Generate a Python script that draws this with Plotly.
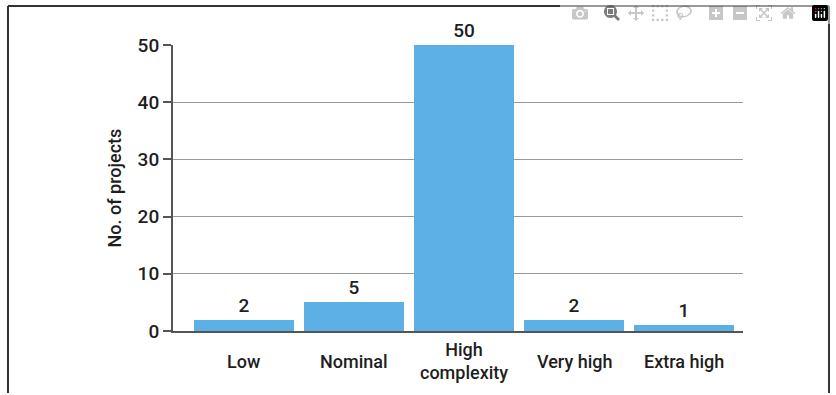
import plotly.graph_objects as go

categories = ["Low", "Nominal", "High<br>complexity", "Very high", "Extra high"]
values = [2, 5, 50, 2, 1]
y_ticks = [0, 10, 20, 30, 40, 50]

FONT = "Roboto, Liberation Sans Narrow, sans-serif"
TXT = "#1e1e1e"

fig = go.Figure()
fig.add_trace(go.Bar(
    x=list(range(len(categories))),
    y=values,
    width=0.91,
    marker=dict(color="#5DB0E3", line=dict(width=0)),
    text=[str(v) for v in values],
    textposition="outside",
    cliponaxis=False,
    textfont=dict(family=FONT, size=19, color=TXT, weight=500),
))

# category labels, vertically centred under the axis like the original
for i, c in enumerate(categories):
    fig.add_annotation(
        x=i, xref="x", y=-0.105, yref="paper",
        text=c, showarrow=False, xanchor="center", yanchor="middle",
        font=dict(family=FONT, size=18, color=TXT, weight=500),
    )

frame = dict(color="#333333", width=2)
fig.update_layout(
    width=834, height=393,
    margin=dict(l=173, r=91, t=45, b=62, autoexpand=False),
    paper_bgcolor="white", plot_bgcolor="white",
    showlegend=False,
    bargap=0,
    font=dict(family=FONT, size=18, color=TXT),
    xaxis=dict(
        range=[-0.645, 4.536],
        automargin=False,
        showticklabels=False,
        showgrid=False,
        showline=True, linecolor="#555555", linewidth=2,
        ticks="", zeroline=False,
    ),
    yaxis=dict(
        range=[0, 50],
        automargin=False,
        tickmode="array",
        tickvals=y_ticks,
        ticktext=[str(t) for t in y_ticks],
        showgrid=True, gridcolor="#9a9a9a", gridwidth=1,
        showline=True, linecolor="#555555", linewidth=2,
        ticks="outside", ticklen=8, tickcolor="#555555", tickwidth=1.5,
        zeroline=False,
        tickfont=dict(family=FONT, size=19, color=TXT, weight=500),
        title=dict(text="No. of projects", standoff=11,
                   font=dict(family=FONT, size=18, color=TXT, weight=500)),
    ),
    shapes=[
        dict(type="line", xref="paper", yref="paper",
             x0=-0.2895, x1=-0.2895, y0=-0.3, y1=1.1364, line=frame),
        dict(type="line", xref="paper", yref="paper",
             x0=-0.2895, x1=1.1509, y0=1.1364, y1=1.1364, line=frame),
        dict(type="line", xref="paper", yref="paper",
             x0=1.1509, x1=1.1509, y0=-0.3, y1=1.1364, line=frame),
    ],
)

fig.write_html(
    "out.html",
    post_script="document.body.style.margin='0';"
                "document.documentElement.style.overflow='hidden';",
)
